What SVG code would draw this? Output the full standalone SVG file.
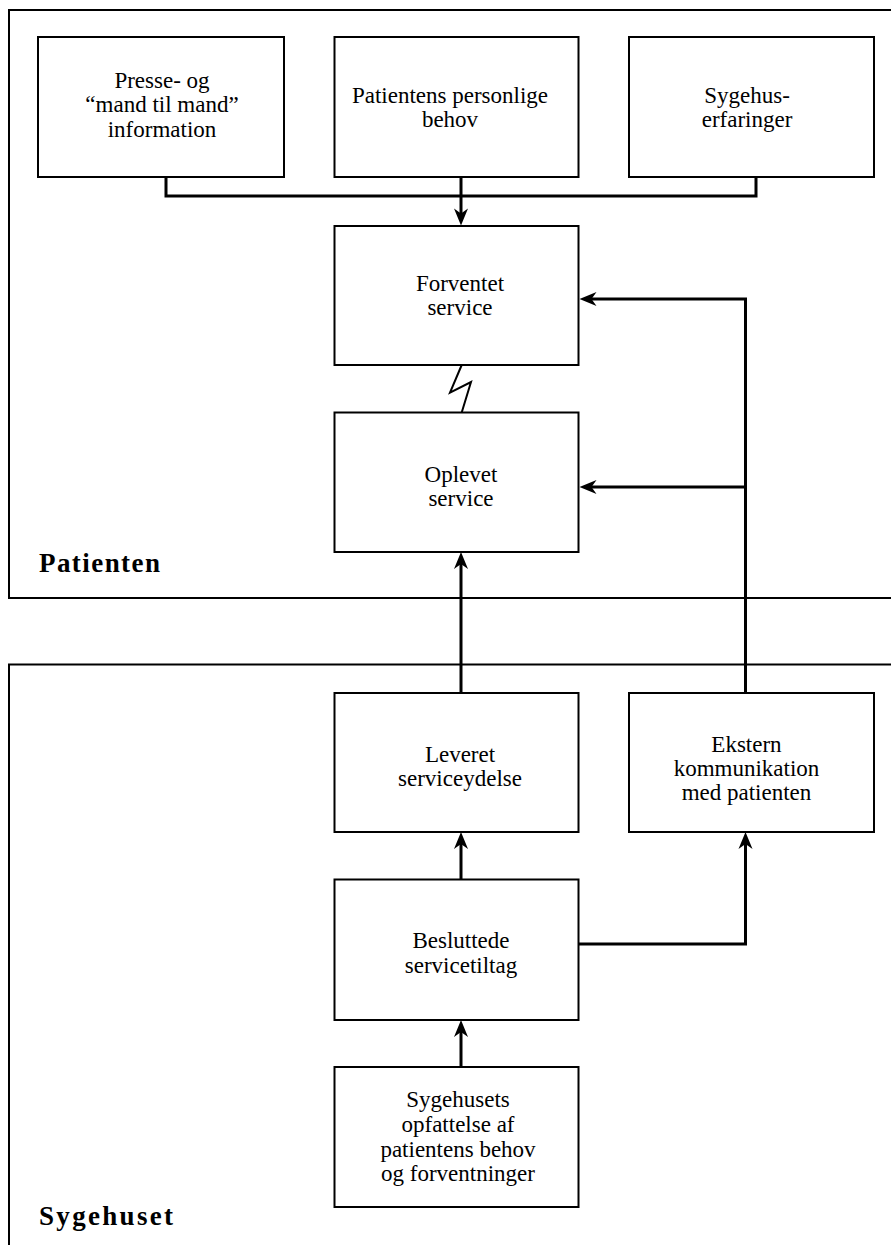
<svg xmlns="http://www.w3.org/2000/svg" width="891" height="1245" viewBox="0 0 891 1245">
<style>
.frame{fill:none;stroke:#000;stroke-width:2}
.box{fill:#fff;stroke:#000;stroke-width:2}
.con{fill:none;stroke:#000;stroke-width:3}
.zig{fill:none;stroke:#000;stroke-width:2}
.t{font-family:"Liberation Serif","Times New Roman",serif;font-size:23px;fill:#000;text-anchor:middle}
.lbl{font-family:"Liberation Serif","Times New Roman",serif;font-size:27px;font-weight:bold;fill:#000}
</style>
<defs>
<marker id="arr" markerUnits="userSpaceOnUse" markerWidth="40" markerHeight="40" viewBox="-20 -20 40 40" refX="0" refY="0" orient="auto">
<path d="M10,0 L-7,-7 L-2,0 L-7,7 Z" fill="#000"/>
</marker>
</defs>
<g id="frame-patienten">
<path class="frame" d="M900,10 H9 V598 H900"/>
<text class="lbl" x="39" y="572" textLength="121" lengthAdjust="spacing">Patienten</text>
</g>
<g id="frame-sygehuset">
<path class="frame" d="M900,664.5 H9 V1260"/>
<text class="lbl" x="39" y="1225" textLength="134" lengthAdjust="spacing">Sygehuset</text>
</g>
<g id="connectors">
<path class="con" d="M166,177 V196 H756 V177"/>
<path class="con" d="M461,177 V215.5" marker-end="url(#arr)"/>
<path class="zig" d="M461.7,365 L450,392.7 L471,382 L461.7,412.5"/>
<path class="con" d="M461,693 V562" marker-end="url(#arr)"/>
<path class="con" d="M745.5,693 V299 H589.5" marker-end="url(#arr)"/>
<path class="con" d="M745.5,487 H589.5" marker-end="url(#arr)"/>
<path class="con" d="M461,879.5 V842" marker-end="url(#arr)"/>
<path class="con" d="M578.5,944 H745.5 V842" marker-end="url(#arr)"/>
<path class="con" d="M461,1067 V1030" marker-end="url(#arr)"/>
</g>
<g id="presse">
<rect class="box" x="38" y="37" width="246" height="140"/>
<text class="t" x="162" y="87.5">Presse- og</text>
<text class="t" x="162" y="112">“mand til mand”</text>
<text class="t" x="162" y="136.5">information</text>
</g>
<g id="behov">
<rect class="box" x="334.5" y="37" width="244" height="140"/>
<text class="t" x="450" y="103">Patientens personlige</text>
<text class="t" x="450" y="126.5">behov</text>
</g>
<g id="erfaringer">
<rect class="box" x="629" y="37" width="245" height="140"/>
<text class="t" x="747" y="103">Sygehus-</text>
<text class="t" x="747" y="127">erfaringer</text>
</g>
<g id="forventet">
<rect class="box" x="334.5" y="226" width="244" height="139"/>
<text class="t" x="460" y="291">Forventet</text>
<text class="t" x="460" y="315">service</text>
</g>
<g id="oplevet">
<rect class="box" x="334.5" y="412.5" width="244" height="139.5"/>
<text class="t" x="461" y="481.5">Oplevet</text>
<text class="t" x="461" y="506">service</text>
</g>
<g id="leveret">
<rect class="box" x="334.5" y="693" width="244" height="139"/>
<text class="t" x="460" y="761.5">Leveret</text>
<text class="t" x="460" y="786">serviceydelse</text>
</g>
<g id="ekstern">
<rect class="box" x="629" y="693" width="245" height="139"/>
<text class="t" x="746.5" y="751.5">Ekstern</text>
<text class="t" x="746.5" y="776">kommunikation</text>
<text class="t" x="746.5" y="800">med patienten</text>
</g>
<g id="besluttede">
<rect class="box" x="334.5" y="879.5" width="244" height="140.5"/>
<text class="t" x="461" y="948">Besluttede</text>
<text class="t" x="461" y="972.5">servicetiltag</text>
</g>
<g id="opfattelse">
<rect class="box" x="334.5" y="1067" width="244" height="140"/>
<text class="t" x="458" y="1107">Sygehusets</text>
<text class="t" x="458" y="1132">opfattelse af</text>
<text class="t" x="458" y="1157">patientens behov</text>
<text class="t" x="458" y="1181">og forventninger</text>
</g>
</svg>
